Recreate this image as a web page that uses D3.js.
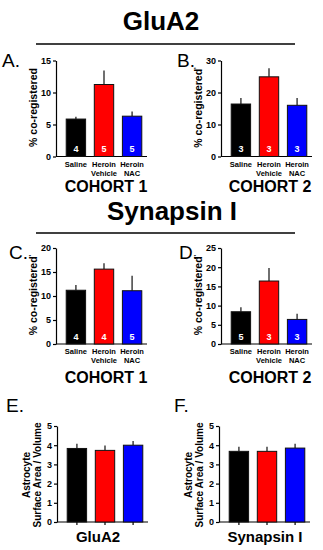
<!DOCTYPE html>
<html>
<head>
<meta charset="utf-8">
<script src="https://cdn.jsdelivr.net/npm/d3@7"></script>
<style>
  body { margin: 0; background: #fff; }
  svg { font-family: Arial, "Liberation Sans", sans-serif; }
</style>
</head>
<body>
<div id="chart"></div>
<script>
// groups on the x axis
var groups = ["Saline", "Heroin Vehicle", "Heroin NAC"];
var groupLines = [["Saline"], ["Heroin", "Vehicle"], ["Heroin", "NAC"]];

// GluA2 % co-registered
var gluaC1Mean = [5.85, 11.25, 6.3];
var gluaC1Sem = [0.35, 2.2, 0.75];
var gluaC1N = [4, 5, 5];
var gluaC2Mean = [16.4, 24.9, 16.0];
var gluaC2Sem = [1.9, 2.7, 2.3];
var gluaC2N = [3, 3, 3];

// Synapsin I % co-registered
var synC1Mean = [11.2, 15.6, 11.1];
var synC1Sem = [1.1, 1.2, 3.1];
var synC1N = [4, 4, 5];
var synC2Mean = [8.4, 16.4, 6.4];
var synC2Sem = [1.2, 3.4, 1.5];
var synC2N = [5, 3, 3];

// astrocyte surface area / volume
var astroGluaMean = [3.83, 3.73, 4.0];
var astroGluaSem = [0.24, 0.25, 0.22];
var astroSynMean = [3.68, 3.68, 3.85];
var astroSynSem = [0.24, 0.24, 0.23];

// y tick labels
var ticksA = [0, 5, 10, 15];
var ticksB = [0, 10, 20, 30];
var ticksC = [0, 5, 10, 15, 20];
var ticksD = [0, 5, 10, 15, 20, 25];
var ticksE = [0, 1, 2, 3, 4, 5];

var barColors = ["#000000", "#ff0000", "#0000ff"];

var svg = d3.select("#chart").append("svg")
  .attr("width", 323)
  .attr("height", 550);

// section titles + rules
function section(title, cx, base, ruleY) {
  svg.append("text")
    .attr("x", cx).attr("y", base)
    .attr("text-anchor", "middle")
    .attr("font-size", "26px").attr("font-weight", "bold")
    .text(title);
  svg.append("line")
    .attr("x1", 36).attr("x2", 295)
    .attr("y1", ruleY).attr("y2", ruleY)
    .attr("stroke", "#000").attr("stroke-width", 1.6);
}
section("GluA2", 161, 30, 44);
section("Synapsin I", 172, 220, 233);

function panelLetter(t, x, y) {
  svg.append("text").attr("x", x).attr("y", y)
    .attr("font-size", "19px").text(t);
}

function panel(cfg) {
  var g = svg.append("g");
  var y = d3.scaleLinear().domain([0, d3.max(cfg.ticks)]).range([cfg.y0, cfg.y0 - 96]);
  var x = d3.scaleBand().domain(groups)
    .range([cfg.x0 + 6, cfg.x0 + 90])
    .paddingInner(0.31).paddingOuter(0.15);

  // y axis
  var ya = g.append("g")
    .attr("transform", "translate(" + cfg.x0 + ",0)")
    .call(d3.axisLeft(y).tickValues(cfg.ticks).tickFormat(d3.format("d")).tickSize(3).tickSizeOuter(0));
  ya.select(".domain").attr("stroke-width", 1.2);
  ya.selectAll(".tick line").attr("stroke-width", 1.2);
  ya.selectAll("text").attr("font-size", "9px").attr("font-weight", "bold")
    .attr("font-family", "Arial, 'Liberation Sans', sans-serif").attr("dx", "1");

  // x axis
  var xa = g.append("g")
    .attr("transform", "translate(0," + cfg.y0 + ")")
    .call(d3.axisBottom(x).tickSize(cfg.xlabels ? 0 : 3).tickSizeOuter(0).tickFormat(""));
  xa.select(".domain").attr("d", "M" + cfg.x0 + ",0H" + (cfg.x0 + 91)).attr("stroke-width", 1.2);
  xa.selectAll(".tick line").attr("stroke-width", 1.2);

  // error bars (upper only)
  g.selectAll(".err").data(cfg.mean).enter().append("line")
    .attr("x1", function(d, i) { return x(groups[i]) + x.bandwidth() / 2; })
    .attr("x2", function(d, i) { return x(groups[i]) + x.bandwidth() / 2; })
    .attr("y1", function(d) { return y(d); })
    .attr("y2", function(d, i) { return y(d + cfg.sem[i]); })
    .attr("stroke", "#333").attr("stroke-width", 1.4);

  // bars
  g.selectAll(".bar").data(cfg.mean).enter().append("rect")
    .attr("x", function(d, i) { return x(groups[i]); })
    .attr("y", function(d) { return y(d); })
    .attr("width", x.bandwidth())
    .attr("height", function(d) { return cfg.y0 - y(d); })
    .attr("fill", function(d, i) { return barColors[i]; })
    .attr("stroke", "#111").attr("stroke-width", 1);

  // n inside bars
  if (cfg.n) {
    g.selectAll(".n").data(cfg.n).enter().append("text")
      .attr("x", function(d, i) { return x(groups[i]) + x.bandwidth() / 2; })
      .attr("y", cfg.y0 - 4.5)
      .attr("text-anchor", "middle")
      .attr("font-size", "9px").attr("font-weight", "bold")
      .attr("fill", "#fff")
      .text(function(d) { return d; });
  }

  // group labels
  if (cfg.xlabels) {
    groupLines.forEach(function(lines, i) {
      lines.forEach(function(l, j) {
        g.append("text")
          .attr("x", x(groups[i]) + x.bandwidth() / 2)
          .attr("y", cfg.y0 + 10 + j * 9)
          .attr("text-anchor", "middle")
          .attr("font-size", "7.5px").attr("font-weight", "bold")
          .text(l);
      });
    });
  }

  // bottom caption
  g.append("text")
    .attr("x", cfg.capX)
    .attr("y", cfg.capY)
    .attr("text-anchor", "middle")
    .attr("font-size", cfg.capSize).attr("font-weight", "bold")
    .text(cfg.caption);

  // y title
  var yt = g.append("text")
    .attr("text-anchor", "middle")
    .attr("font-weight", "bold");
  if (cfg.ytitle2) {
    yt.attr("transform", "translate(" + (cfg.x0 - 27) + "," + (cfg.y0 - 47) + ") rotate(-90)")
      .attr("font-size", "10px");
    yt.append("tspan").attr("x", 0).attr("dy", 0).text(cfg.ytitle);
    yt.append("tspan").attr("x", 0).attr("dy", "1.05em").text(cfg.ytitle2);
  } else {
    yt.attr("transform", "translate(" + (cfg.x0 - 19) + "," + (cfg.y0 - 49) + ") rotate(-90)")
      .attr("font-size", "10.5px");
    yt.text(cfg.ytitle);
    if (cfg.mark) yt.append("tspan").attr("dy", "-3").attr("font-size", "7px").text("'");
  }
}

panelLetter("A.", 2, 67);
panel({ x0: 56, y0: 156.5, ticks: ticksA, mean: gluaC1Mean, sem: gluaC1Sem, n: gluaC1N,
  xlabels: true, caption: "COHORT 1", capX: 106, capY: 192, capSize: "16px",
  ytitle: "% co-registered" });

panelLetter("B.", 177, 67);
panel({ x0: 221, y0: 156.5, ticks: ticksB, mean: gluaC2Mean, sem: gluaC2Sem, n: gluaC2N,
  xlabels: true, caption: "COHORT 2", capX: 270, capY: 192, capSize: "16px",
  ytitle: "% co-registered", mark: true });

panelLetter("C.", 9, 259);
panel({ x0: 56, y0: 344, ticks: ticksC, mean: synC1Mean, sem: synC1Sem, n: synC1N,
  xlabels: true, caption: "COHORT 1", capX: 106, capY: 383, capSize: "16px",
  ytitle: "% co-registered", mark: true });

panelLetter("D.", 179, 259);
panel({ x0: 221, y0: 344, ticks: ticksD, mean: synC2Mean, sem: synC2Sem, n: synC2N,
  xlabels: true, caption: "COHORT 2", capX: 270, capY: 383, capSize: "16px",
  ytitle: "% co-registered", mark: true });

panelLetter("E.", 6, 412);
panel({ x0: 57, y0: 522, ticks: ticksE, mean: astroGluaMean, sem: astroGluaSem,
  caption: "GluA2", capX: 98, capY: 542, capSize: "15px",
  ytitle: "Astrocyte", ytitle2: "Surface  Area / Volume" });

panelLetter("F.", 174, 412);
panel({ x0: 219, y0: 522, ticks: ticksE, mean: astroSynMean, sem: astroSynSem,
  caption: "Synapsin I", capX: 265, capY: 542, capSize: "15px",
  ytitle: "Astrocyte", ytitle2: "Surface  Area / Volume" });
</script>
</body>
</html>
